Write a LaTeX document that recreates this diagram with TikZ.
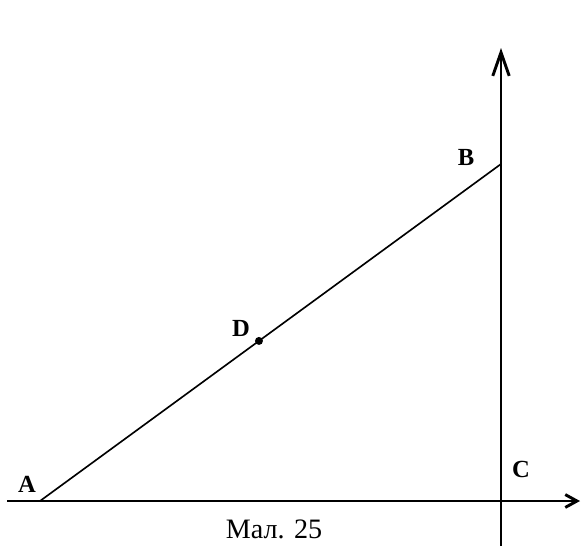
\documentclass[tikz,border=0pt]{standalone}
\usepackage{fontspec}
\setmainfont{Liberation Serif}
\usetikzlibrary{arrows.meta, calc}
\tikzset{
  axis/.style={line width=2.5pt},
  segment/.style={line width=1.4pt},
  ptlabel/.style={font=\bfseries\fontsize{21}{23}\selectfont, inner sep=0pt},
  caption/.style={font=\fontsize{24}{26}\selectfont, inner sep=0pt}
}

\begin{document}
\begin{tikzpicture}[x=0.03cm, y=-0.03cm]
        \useasboundingbox (0,0) rectangle (581,546);

        % Punkty
        \coordinate (A) at (40,501);
        \coordinate (B) at (501,164);
        \coordinate (C) at (501,501);
        \coordinate (D) at ($(A)!0.475!(B)$);
        \coordinate (xstart) at (7,501);
        \coordinate (xend) at (580,501);
        \coordinate (ytop) at (501,48);
        \coordinate (ybot) at (501,546);

        % Osi
        \draw [axis, -{Straight Barb[length=10pt, width=11pt]}] (xstart) -- (xend);
        \draw [axis, -{Straight Barb[length=20pt, width=14pt]}] (ybot) -- (ytop);

        % Vidrizok AB
        \draw [segment] (A) -- (B);
        \fill (D) circle (4);

        % Pidpysy
        \node (labA) [ptlabel] at (27,484) {A};
        \node (labB) [ptlabel] at (466,157) {B};
        \node (labC) [ptlabel] at (521,469) {C};
        \node (labD) [ptlabel] at (241,328) {D};
        \node (cap) [caption, anchor=base] at (274,538) {Мал. 25};
\end{tikzpicture}
\end{document}
